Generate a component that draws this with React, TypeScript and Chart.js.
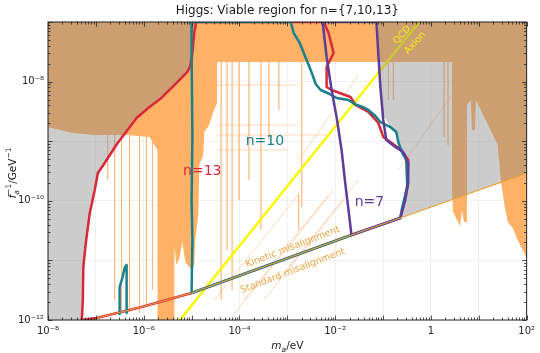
import React, { useEffect, useRef } from 'react';
import { Chart, registerables } from 'chart.js';

Chart.register(...registerables);

// ---------- axis ranges & ticks ----------
const X_MIN = 1e-8;
const X_MAX = 1e2;
const Y_MIN = 1e-12;
const Y_MAX = 1e-7;
const xDecades = [1e-8, 1e-7, 1e-6, 1e-5, 1e-4, 1e-3, 1e-2, 1e-1, 1, 1e1, 1e2];
const yDecades = [1e-12, 1e-11, 1e-10, 1e-9, 1e-8, 1e-7];
const xLabelExps = [-8, -6, -4, -2, 0, 2];
const yLabelExps = [-12, -10, -8];

// ---------- curves (m_a [eV], f_a^-1 [GeV^-1]) ----------
const n13Curve: number[][] = [
  [5.09e-8, 1e-12], [5.35e-8, 2.17e-12], [5.47e-8, 7.75e-12], [6.17e-8, 1.96e-11],
  [7.46e-8, 6.24e-11], [9.48e-8, 1.52e-10], [1.10e-7, 2.92e-10], [1.53e-7, 4.31e-10],
  [2.85e-7, 9.33e-10], [4.60e-7, 1.54e-9], [7.08e-7, 2.45e-9], [1.32e-6, 3.75e-9],
  [2.34e-6, 5.31e-9], [5.55e-6, 1.06e-8], [8.14e-6, 1.45e-8], [9.40e-6, 1.83e-8],
  [1.04e-5, 3.02e-8], [1.14e-5, 6.79e-8], [1.25e-5, 1e-7],
  [5.74e-3, 1e-7], [7.29e-3, 6.53e-8], [9.27e-3, 3.02e-8], [6.62e-3, 1.76e-8],
  [6.62e-3, 8.11e-9], [8.42e-3, 7.23e-9], [2.09e-2, 5.52e-9], [2.65e-2, 4.05e-9],
  [4.94e-2, 3.09e-9], [7.98e-2, 2.02e-9], [0.101, 1.18e-9], [0.142, 9.7e-10],
  [0.240, 7.12e-10], [0.336, 4.84e-10], [0.321, 1.84e-10], [0.264, 7.87e-11],
  [0.229, 5.14e-11], [2.19e-2, 2.67e-11], [1e-5, 2.84e-12], [9.44e-7, 1.67e-12],
  [1.04e-7, 1.08e-12], [5.09e-8, 1e-12],
];

const n10Curve: number[][] = [
  [1e-5, 2.84e-12], [1.04e-5, 2.2e-11], [1e-5, 1.03e-10], [1.04e-5, 1.18e-9],
  [1e-5, 3.02e-8], [1e-5, 1e-7], [1.18e-3, 1e-7], [1.36e-3, 6.53e-8],
  [1.82e-3, 4.44e-8], [2.43e-3, 2.49e-8], [3.08e-3, 1.57e-8], [3.92e-3, 9.12e-9],
  [4.97e-3, 7.23e-9], [7.65e-3, 6.19e-9], [1.07e-2, 5.31e-9], [1.9e-2, 4.91e-9],
  [2.53e-2, 4.21e-9], [3.72e-2, 3.75e-9], [4.94e-2, 3.34e-9], [6.92e-2, 2.65e-9],
  [8.79e-2, 2.1e-9], [0.142, 1.73e-9], [0.189, 1.43e-9], [0.208, 9.7e-10],
  [0.252, 6.34e-10], [0.305, 4.84e-10], [0.321, 1.7e-10], [0.252, 7.87e-11],
  [0.229, 5.14e-11], [2.19e-2, 2.67e-11], [1e-5, 2.84e-12],
];

const n10Spike: number[][] = [
  [3.14e-7, 1.26e-12], [3.14e-7, 3.58e-12], [3.62e-7, 5.26e-12], [3.99e-7, 7.45e-12],
  [4.39e-7, 8.37e-12], [4.39e-7, 3.19e-12], [4.39e-7, 1.31e-12],
];

const n7Curve: number[][] = [
  [5.47e-3, 1e-7], [6.62e-3, 2.59e-8], [8.42e-3, 7.23e-9], [1.07e-2, 2.55e-9],
  [1.36e-2, 7.12e-10], [1.64e-2, 1.84e-10], [1.9e-2, 7.01e-11], [2.19e-2, 2.67e-11],
  [0.229, 5.14e-11], [0.291, 1.03e-10], [0.336, 1.99e-10], [0.336, 4.31e-10],
  [0.264, 6.59e-10], [0.180, 8.0e-10], [0.117, 1.05e-9], [0.101, 2.27e-9],
  [8.79e-2, 8.11e-9], [7.26e-2, 1e-7], [5.47e-3, 1e-7],
];

const misalignmentLine: number[][] = [
  [1.04e-7, 1.08e-12], [9.44e-7, 1.67e-12], [1e-5, 2.84e-12],
  [2.19e-2, 2.67e-11], [0.229, 5.14e-11], [100, 2.92e-10],
];

const qcdAxionLine: number[][] = [[5.7e-6, 1e-12], [0.57, 1e-7]];

// ---------- regions ----------
const grayLeftRegion: number[][] = [[1e-8, 1e-12], ...n13Curve.slice(0, 19), [1e-8, 1e-7]];

const grayRightRegion: number[][] = [
  [7.26e-2, 1e-7], [8.79e-2, 8.11e-9], [0.101, 2.75e-9], [0.142, 1.73e-9],
  [0.189, 1.43e-9], [0.208, 9.7e-10], [0.252, 6.34e-10], [0.336, 4.31e-10],
  [0.336, 1.99e-10], [0.291, 1.03e-10], [0.229, 5.14e-11], [100, 2.92e-10], [100, 1e-7],
];

const orangeLeftRegion: number[][] = [
  [1e-8, 1e-7], [8.79e-2, 1e-7], [8.79e-2, 2.13e-8], [3.42e-5, 2.13e-8],
  [3.42e-5, 4.38e-9], [2.83e-5, 3.09e-9], [2.33e-5, 1.87e-9], [1.84e-5, 1.43e-9],
  [1.75e-5, 5.86e-10], [1.45e-5, 3.99e-10], [1.38e-5, 5.78e-11], [1.19e-5, 2.2e-11],
  [1.14e-5, 8.37e-12], [1e-5, 6.9e-12], [7.4e-6, 9.4e-12], [6.41e-6, 2.04e-11],
  [5.55e-6, 1.1e-11], [4.81e-6, 8.37e-12], [4.37e-6, 1.81e-11], [4.37e-6, 1e-12],
  [1.94e-6, 1e-12], [1.94e-6, 7.12e-10], [1.32e-6, 1.18e-9], [4.6e-7, 1.27e-9],
  [1.04e-7, 1.27e-9], [3.31e-8, 1.37e-9], [1e-8, 1.73e-9],
];

const orangeRightRegion: number[][] = [
  [7.98e-2, 1e-7], [100, 1e-7], [100, 1.1e-11], [65.0, 2.2e-11], [51.2, 3.5e-11],
  [40.3, 4.41e-11], [34.9, 7.87e-11], [28.8, 2.23e-10], [24.9, 8.63e-10], [8.71, 4.91e-9],
  [8.30, 1.54e-9], [7.19, 1.54e-9], [6.85, 4.91e-9], [5.66, 4.05e-9], [5.66, 4.41e-11],
  [4.90, 4.41e-11], [4.46, 7.01e-11], [4.05, 3.78e-11], [3.51, 4.76e-11], [2.90, 6.49e-11],
  [2.76, 1.52e-10], [2.76, 2.13e-8], [7.98e-2, 2.13e-8],
];

// thin experimental limit lines
const haloscopeLines: number[][][] = [
  [[1.77e-7, 1.27e-9], [1.77e-7, 2.23e-10]],
  [[2.47e-7, 1.27e-9], [2.47e-7, 2.17e-12]],
  [[3.45e-7, 1.27e-9], [3.45e-7, 1.47e-12]],
  [[5.07e-7, 1.27e-9], [5.07e-7, 1.36e-12]],
  [[8.18e-7, 1.27e-9], [8.18e-7, 1.31e-12]],
  [[1.14e-6, 1.27e-9], [1.14e-6, 1.79e-12]],
  [[1.52e-6, 1.27e-9], [1.52e-6, 3.19e-12]],
  [[4.14e-5, 2.13e-8], [4.14e-5, 2.17e-12]],
  [[5.52e-5, 2.13e-8], [5.52e-5, 1.49e-11]],
  [[7.02e-5, 2.13e-8], [7.02e-5, 3.19e-12]],
  [[9.8e-5, 2.13e-8], [9.8e-5, 1.03e-10]],
  [[1.58e-4, 2.13e-8], [1.58e-4, 2.23e-10]],
  [[2.81e-4, 2.13e-8], [2.81e-4, 3.24e-11]],
  [[4.12e-4, 2.13e-8], [4.12e-4, 1.05e-9]],
  [[6.65e-4, 2.13e-8], [6.65e-4, 3.34e-9]],
  [[2.0e-3, 2.13e-8], [2.0e-3, 7.87e-11]],
  [[3.42e-5, 8.77e-9], [1.73e-3, 8.77e-9]],
  [[3.42e-5, 1.87e-9], [1.73e-3, 1.87e-9]],
  [[3.42e-5, 1.27e-9], [7.29e-3, 1.27e-9]],
  [[3.42e-5, 7.12e-10], [1.07e-3, 7.12e-10]],
  [[2.97e-5, 2.17e-12], [1.73e-3, 1.3e-10], [1.73e-3, 3.24e-11]],
  [[6.68e-5, 1.08e-12], [9.27e-3, 1.52e-10]],
  [[1.25e-4, 2.17e-12], [7.29e-3, 1.25e-10]],
  [[3.24e-4, 2.17e-12], [1.5e-2, 1.03e-10]],
  [[6.65e-4, 4.69e-12], [3.07e-2, 2.23e-10]],
  [[0.208, 3.29e-10], [2.76, 5.96e-9]],
  [[1.73e-3, 4.84e-10], [3.07e-2, 1.29e-8]],
  [[0.129, 2.13e-8], [0.129, 4.91e-9]],
  [[0.164, 2.13e-8], [0.164, 4.91e-9]],
  [[1.88, 2.13e-8], [1.88, 1.18e-9]],
  [[2.28, 2.13e-8], [2.28, 8.63e-10]],
];

// ---------- text labels ----------
const RED = '#D9283A';
const TEAL = '#17808D';
const PURPLE = '#5E3C99';
const YELLOW = '#F8F800';
const ORANGE = '#FFB266';
const GRAY = 'rgba(128,128,128,0.4)';
const MIS_ORANGE = '#E9A23B';

const plotLabels = [
  { text: 'n=13', x: 1.67e-5, y: 3.16e-10, color: RED, size: 14, angle: 0 },
  { text: 'n=10', x: 3.4e-4, y: 1.01e-9, color: TEAL, size: 14, angle: 0 },
  { text: 'n=7', x: 5.19e-2, y: 9.55e-11, color: PURPLE, size: 14, angle: 0 },
  { text: 'QCD', x: 0.252, y: 6.05e-8, color: '#F2EE10', size: 9.5, angle: -48 },
  { text: 'Axion', x: 0.469, y: 4.44e-8, color: '#F2EE10', size: 9.5, angle: -48 },
  { text: 'Kinetic misalignment', x: 1.3e-3, y: 1.68e-11, color: 'rgba(232,160,60,0.95)', size: 9.5, angle: -21 },
  { text: 'Standard misalignment', x: 1.3e-3, y: 6.64e-12, color: 'rgba(232,160,60,0.95)', size: 9.5, angle: -21 },
];

const TITLE = 'Higgs: Viable region for n={7,10,13}';
const FONT = '"DejaVu Sans", sans-serif';

const SUP: Record<string, string> = {
  '-': '\u207B', '0': '\u2070', '1': '\u00B9', '2': '\u00B2', '3': '\u00B3',
  '4': '\u2074', '5': '\u2075', '6': '\u2076', '7': '\u2077', '8': '\u2078', '9': '\u2079',
};
const powLabel = (e: number) => (e === 0 ? '1' : '10' + String(e).split('').map((c) => SUP[c]).join(''));

const toPts = (arr: number[][]) => arr.map(([x, y]) => ({ x, y }));
const joinSegments = (segs: number[][][]) =>
  segs.flatMap((s, i) => (i ? [{ x: s[0][0], y: null as any }, ...toPts(s)] : toPts(s)));

type Piece = { t: string; font: string; dy: number };
function drawRich(ctx: CanvasRenderingContext2D, groups: Piece[][], cx: number, baseY: number) {
  const widths = groups.map((g) =>
    Math.max(...g.map((p) => { ctx.font = p.font; return ctx.measureText(p.t).width; })));
  const total = widths.reduce((a, b) => a + b, 0);
  let x = cx - total / 2;
  groups.forEach((g, i) => {
    g.forEach((p) => { ctx.font = p.font; ctx.fillText(p.t, x, baseY + p.dy); });
    x += widths[i];
  });
}

const overlayPlugin = {
  id: 'overlay',
  afterDatasetsDraw(chart: any) {
    const { ctx, scales } = chart;
    const xs = scales.x;
    const ys = scales.y;
    for (const lab of plotLabels) {
      ctx.save();
      ctx.translate(xs.getPixelForValue(lab.x), ys.getPixelForValue(lab.y));
      ctx.rotate((lab.angle * Math.PI) / 180);
      ctx.font = `${lab.size}px ${FONT}`;
      ctx.fillStyle = lab.color;
      ctx.textAlign = 'center';
      ctx.textBaseline = 'middle';
      ctx.fillText(lab.text, 0, 0);
      ctx.restore();
    }
  },
  afterDraw(chart: any) {
    const { ctx, chartArea: a, scales } = chart;
    const xs = scales.x;
    const ys = scales.y;
    ctx.save();
    ctx.strokeStyle = '#222';
    ctx.lineWidth = 1;
    ctx.strokeRect(a.left, a.top, a.right - a.left, a.bottom - a.top);
    ctx.lineWidth = 0.8;
    ctx.beginPath();
    for (const d of xDecades) {
      for (let k = 1; k <= 9; k++) {
        const v = d * k;
        if (v > X_MAX * 1.0001) break;
        const px = Math.round(xs.getPixelForValue(v)) + 0.5;
        const len = k === 1 ? 4.5 : 2.5;
        ctx.moveTo(px, a.bottom); ctx.lineTo(px, a.bottom - len);
        ctx.moveTo(px, a.top); ctx.lineTo(px, a.top + len);
      }
    }
    for (const d of yDecades) {
      for (let k = 1; k <= 9; k++) {
        const v = d * k;
        if (v > Y_MAX * 1.0001) break;
        const py = Math.round(ys.getPixelForValue(v)) + 0.5;
        const len = k === 1 ? 4.5 : 2.5;
        ctx.moveTo(a.left, py); ctx.lineTo(a.left + len, py);
        ctx.moveTo(a.right, py); ctx.lineTo(a.right - len, py);
      }
    }
    ctx.stroke();
    ctx.fillStyle = '#1a1a1a';
    ctx.textAlign = 'center';
    ctx.textBaseline = 'alphabetic';
    ctx.font = `12px ${FONT}`;
    ctx.fillText(TITLE, (a.left + a.right) / 2, 14);
    ctx.textAlign = 'left';
    drawRich(ctx, [
      [{ t: 'm', font: `italic 10.5px ${FONT}`, dy: 0 }],
      [{ t: 'a', font: `italic 7.5px ${FONT}`, dy: 2.5 }],
      [{ t: '/eV', font: `10.5px ${FONT}`, dy: 0 }],
    ], (a.left + a.right) / 2, 349);
    ctx.translate(16, (a.top + a.bottom) / 2 + 2);
    ctx.rotate(-Math.PI / 2);
    drawRich(ctx, [
      [{ t: 'f', font: `italic 10.5px ${FONT}`, dy: 0 }],
      [{ t: 'a', font: `italic 7.5px ${FONT}`, dy: 2.5 }, { t: '\u22121', font: `7.5px ${FONT}`, dy: -5 }],
      [{ t: '/GeV', font: `10.5px ${FONT}`, dy: 0 }],
      [{ t: '\u22121', font: `7.5px ${FONT}`, dy: -5 }],
    ], 0, 0);
    ctx.restore();
  },
};

export default function App() {
  const ref = useRef<HTMLCanvasElement | null>(null);

  useEffect(() => {
    if (!ref.current) return;
    document.body.style.margin = '0';

    const lineDs = (label: string, pts: number[][], color: string, width: number, order: number) => ({
      label, data: toPts(pts), borderColor: color, borderWidth: width, pointRadius: 0,
      fill: false, tension: 0, order, borderJoinStyle: 'round' as const, borderCapStyle: 'round' as const,
    });
    const regionDs = (label: string, pts: number[][], color: string, order: number) => ({
      label, data: toPts(pts), borderWidth: 0, borderColor: 'rgba(0,0,0,0)',
      backgroundColor: color, fill: 'shape' as const, pointRadius: 0, tension: 0, order,
    });

    const datasets: any[] = [
      {
        label: 'limits', data: joinSegments(haloscopeLines), borderColor: 'rgba(255,160,80,0.5)',
        borderWidth: 0.8, pointRadius: 0, fill: false, tension: 0, order: 100, spanGaps: false,
      },
      regionDs('orangeLeft', orangeLeftRegion, ORANGE, 90),
      regionDs('orangeRight', orangeRightRegion, ORANGE, 90),
      lineDs('QCD axion', qcdAxionLine, YELLOW, 2.5, 80),
      regionDs('grayLeft', grayLeftRegion, GRAY, 70),
      regionDs('grayRight', grayRightRegion, GRAY, 70),
      lineDs('n=13', n13Curve, RED, 2.5, 50),
      lineDs('n=10 spike', n10Spike, TEAL, 2.5, 40),
      lineDs('n=10', n10Curve, TEAL, 2.5, 40),
      lineDs('n=7', n7Curve, PURPLE, 2.5, 30),
      lineDs('misalignment', misalignmentLine, MIS_ORANGE, 1.2, 20),
    ];

    const tickFont = { family: FONT, size: 10 };
    const chart = new Chart(ref.current, {
      type: 'line',
      data: { datasets },
      plugins: [overlayPlugin],
      options: {
        animation: false,
        responsive: false,
        maintainAspectRatio: false,
        events: [],
        layout: { padding: { top: 22, right: 11, left: 0, bottom: 0 }, autoPadding: false },
        plugins: { legend: { display: false }, tooltip: { enabled: false }, title: { display: false } },
        elements: { point: { radius: 0, hitRadius: 0 } },
        scales: {
          x: {
            type: 'logarithmic', min: X_MIN, max: X_MAX,
            afterBuildTicks: (s: any) => { s.ticks = xDecades.map((v) => ({ value: v })); },
            afterFit: (s: any) => { s.height = 33; },
            ticks: {
              autoSkip: false, maxRotation: 0, minRotation: 0, padding: 5, color: '#262626', font: tickFont,
              callback: (v: any) => {
                const e = Math.round(Math.log10(Number(v)));
                return xLabelExps.includes(e) ? powLabel(e) : '';
              },
            },
            grid: { color: 'rgba(0,0,0,0.07)', lineWidth: 0.8, drawTicks: false },
            border: { display: false },
          },
          y: {
            type: 'logarithmic', min: Y_MIN, max: Y_MAX,
            afterBuildTicks: (s: any) => { s.ticks = yDecades.map((v) => ({ value: v })); },
            afterFit: (s: any) => { s.width = 48; },
            ticks: {
              autoSkip: false, padding: 4, color: '#262626', font: tickFont,
              callback: (v: any) => {
                const e = Math.round(Math.log10(Number(v)));
                return yLabelExps.includes(e) ? powLabel(e) : '';
              },
            },
            grid: { color: 'rgba(0,0,0,0.07)', lineWidth: 0.8, drawTicks: false },
            border: { display: false },
          },
        },
      } as any,
    });
    return () => chart.destroy();
  }, []);

  return (
    <div style={{ position: 'fixed', left: 0, top: 0, width: 540, height: 353, background: '#fff' }}>
      <canvas ref={ref} width={540} height={353} style={{ display: 'block' }} />
    </div>
  );
}
